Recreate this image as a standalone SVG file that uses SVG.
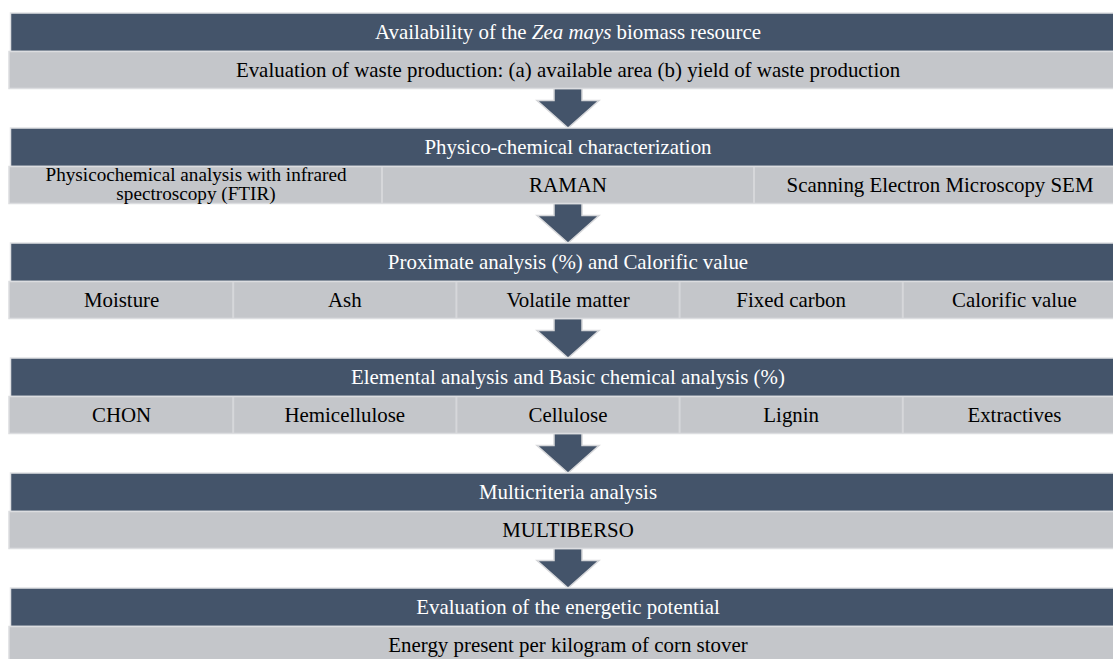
<svg xmlns="http://www.w3.org/2000/svg" width="1113" height="659" viewBox="0 0 1113 659">
<style>
.dk{fill:#44546a;stroke:#e1e2e5;stroke-width:1.5}
.lt{fill:#c4c6ca;stroke:#dcdde0;stroke-width:1.5}
.dv{stroke:#d6d7da;stroke-width:2}
.th{font-family:"Liberation Serif","Times New Roman",serif;font-size:20.9px;fill:#ffffff;text-anchor:middle}
.tl{font-family:"Liberation Serif","Times New Roman",serif;font-size:20.9px;fill:#000000;text-anchor:middle}
.sm{font-size:19.2px}
.ar{fill:#44546a;stroke:#d6d7da;stroke-width:1.5}
</style>
<defs>
<path id="arrow" class="ar" d="M-14,0 H14 V12 H31 L0,39.5 L-31,12 H-14 Z"/>
</defs>
<rect width="1113" height="659" fill="#ffffff"/>
<g id="connectors">
<use href="#arrow" transform="translate(568,88.5)"/>
<use href="#arrow" transform="translate(568,203.5)"/>
<use href="#arrow" transform="translate(568,318.5)"/>
<use href="#arrow" transform="translate(568,433.5)"/>
<use href="#arrow" transform="translate(568,548.5)"/>
</g>
<g id="node1">
<rect class="dk" x="10.5" y="13" width="1120" height="38.5"/>
<rect class="lt" x="9" y="51.5" width="1121" height="37"/>
<text class="th" x="568" y="39">Availability of the <tspan font-style="italic">Zea mays</tspan> biomass resource</text>
<text class="tl" x="568" y="76.7">Evaluation of waste production: (a) available area (b) yield of waste production</text>
</g>
<g id="node2">
<rect class="dk" x="10.5" y="128" width="1120" height="38.5"/>
<rect class="lt" x="9" y="166.5" width="1121" height="37"/>
<line class="dv" x1="382" y1="167" x2="382" y2="203"/>
<line class="dv" x1="754" y1="167" x2="754" y2="203"/>
<text class="th" x="568" y="154">Physico-chemical characterization</text>
<text class="tl sm" x="196" y="180.5">Physicochemical analysis with infrared</text>
<text class="tl sm" x="196" y="199.7">spectroscopy (FTIR)</text>
<text class="tl" x="568" y="191.7">RAMAN</text>
<text class="tl" x="940" y="191.7">Scanning Electron Microscopy SEM</text>
</g>
<g id="node3">
<rect class="dk" x="10.5" y="243" width="1120" height="38.5"/>
<rect class="lt" x="9" y="281.5" width="1121" height="37"/>
<line class="dv" x1="233.2" y1="282" x2="233.2" y2="318"/>
<line class="dv" x1="456.4" y1="282" x2="456.4" y2="318"/>
<line class="dv" x1="679.6" y1="282" x2="679.6" y2="318"/>
<line class="dv" x1="902.8" y1="282" x2="902.8" y2="318"/>
<text class="th" x="568" y="269">Proximate analysis (%) and Calorific value</text>
<text class="tl" x="121.6" y="306.7">Moisture</text>
<text class="tl" x="344.8" y="306.7">Ash</text>
<text class="tl" x="568" y="306.7">Volatile matter</text>
<text class="tl" x="791.2" y="306.7">Fixed carbon</text>
<text class="tl" x="1014.4" y="306.7">Calorific value</text>
</g>
<g id="node4">
<rect class="dk" x="10.5" y="358" width="1120" height="38.5"/>
<rect class="lt" x="9" y="396.5" width="1121" height="37"/>
<line class="dv" x1="233.2" y1="397" x2="233.2" y2="433"/>
<line class="dv" x1="456.4" y1="397" x2="456.4" y2="433"/>
<line class="dv" x1="679.6" y1="397" x2="679.6" y2="433"/>
<line class="dv" x1="902.8" y1="397" x2="902.8" y2="433"/>
<text class="th" x="568" y="384">Elemental analysis and Basic chemical analysis (%)</text>
<text class="tl" x="121.6" y="421.7">CHON</text>
<text class="tl" x="344.8" y="421.7">Hemicellulose</text>
<text class="tl" x="568" y="421.7">Cellulose</text>
<text class="tl" x="791.2" y="421.7">Lignin</text>
<text class="tl" x="1014.4" y="421.7">Extractives</text>
</g>
<g id="node5">
<rect class="dk" x="10.5" y="473" width="1120" height="38.5"/>
<rect class="lt" x="9" y="511.5" width="1121" height="37"/>
<text class="th" x="568" y="499">Multicriteria analysis</text>
<text class="tl" x="568" y="536.7">MULTIBERSO</text>
</g>
<g id="node6">
<rect class="dk" x="10.5" y="588" width="1120" height="38.5"/>
<rect class="lt" x="9" y="626.5" width="1121" height="37"/>
<text class="th" x="568" y="614">Evaluation of the energetic potential</text>
<text class="tl" x="568" y="651.7">Energy present per kilogram of corn stover</text>
</g>
</svg>
